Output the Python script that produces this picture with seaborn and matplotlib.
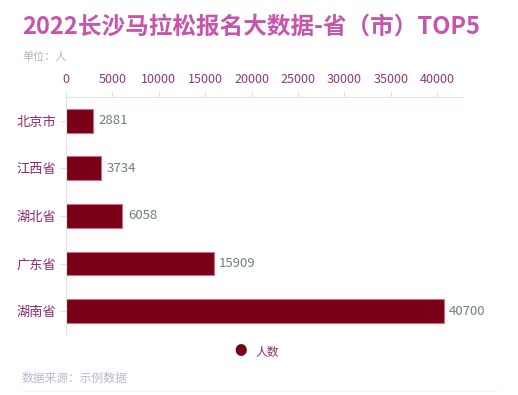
import pandas as pd
import matplotlib.pyplot as plt
import seaborn as sns

provinces = ["北京市", "江西省", "湖北省", "广东省", "湖南省"]
counts = [2881, 3734, 6058, 15909, 40700]
xticks = [0, 5000, 10000, 15000, 20000, 25000, 30000, 35000, 40000]

df = pd.DataFrame({"省份": provinces, "人数": counts})

sns.set_style("white")
plt.rcParams['font.family'] = ['Noto Sans CJK SC', 'DejaVu Sans']

fig = plt.figure(figsize=(5.18, 3.95), dpi=100)
ax = fig.add_axes([66 / 518, 1 - 335 / 395, (463 - 66) / 518, (335 - 97) / 395])

sns.barplot(df, y="省份", x="人数", color="#7a0016", edgecolor="#d06a8a",
            linewidth=0.8, width=0.5, saturation=1, ax=ax)

ax.set_xlim(0, 42800)
ax.set_xticks(xticks)
ax.xaxis.tick_top()
ax.tick_params(axis="x", colors="#dde6e6", labelcolor="#8a3a7a", labelsize=9,
               length=4, pad=4, top=True, bottom=False)
ax.tick_params(axis="y", colors="#dde6e6", labelcolor="#8a2a6f", labelsize=9.5,
               length=4, pad=3, left=True)
ax.set_xlabel("")
ax.set_ylabel("")
for s in ["right", "bottom"]:
    ax.spines[s].set_visible(False)
ax.spines["top"].set_color("#dde6e6")
ax.spines["left"].set_color("#dde6e6")

for i, v in enumerate(counts):
    ax.text(v + 600, i, str(v), va="center", ha="left", fontsize=9.5, color="#6e7f7c")

fig.text(22 / 518, 1 - 27 / 395, "2022长沙马拉松报名大数据-省（市）TOP5",
         fontsize=17, fontweight="bold", color="#c655ad", va="center", ha="left")
fig.text(22 / 518, 1 - 57 / 395, "单位：人", fontsize=8, color="#b5b5b5",
         va="center", ha="left")

fig.text(241 / 518, 1 - 352 / 395, "●", fontsize=9, color="#7a0016",
         va="center", ha="center")
fig.text(255 / 518, 1 - 352 / 395, "人数", fontsize=8.5, color="#8a2a6f",
         va="center", ha="left")
fig.text(22 / 518, 1 - 378 / 395, "数据来源：示例数据", fontsize=8.5,
         color="#c0b6cf", va="center", ha="left")
fig.add_artist(plt.Line2D([22 / 518, 497 / 518], [1 - 391 / 395, 1 - 391 / 395],
                          color="#eef3f3", linewidth=1))

plt.savefig("out.png", dpi=100)
